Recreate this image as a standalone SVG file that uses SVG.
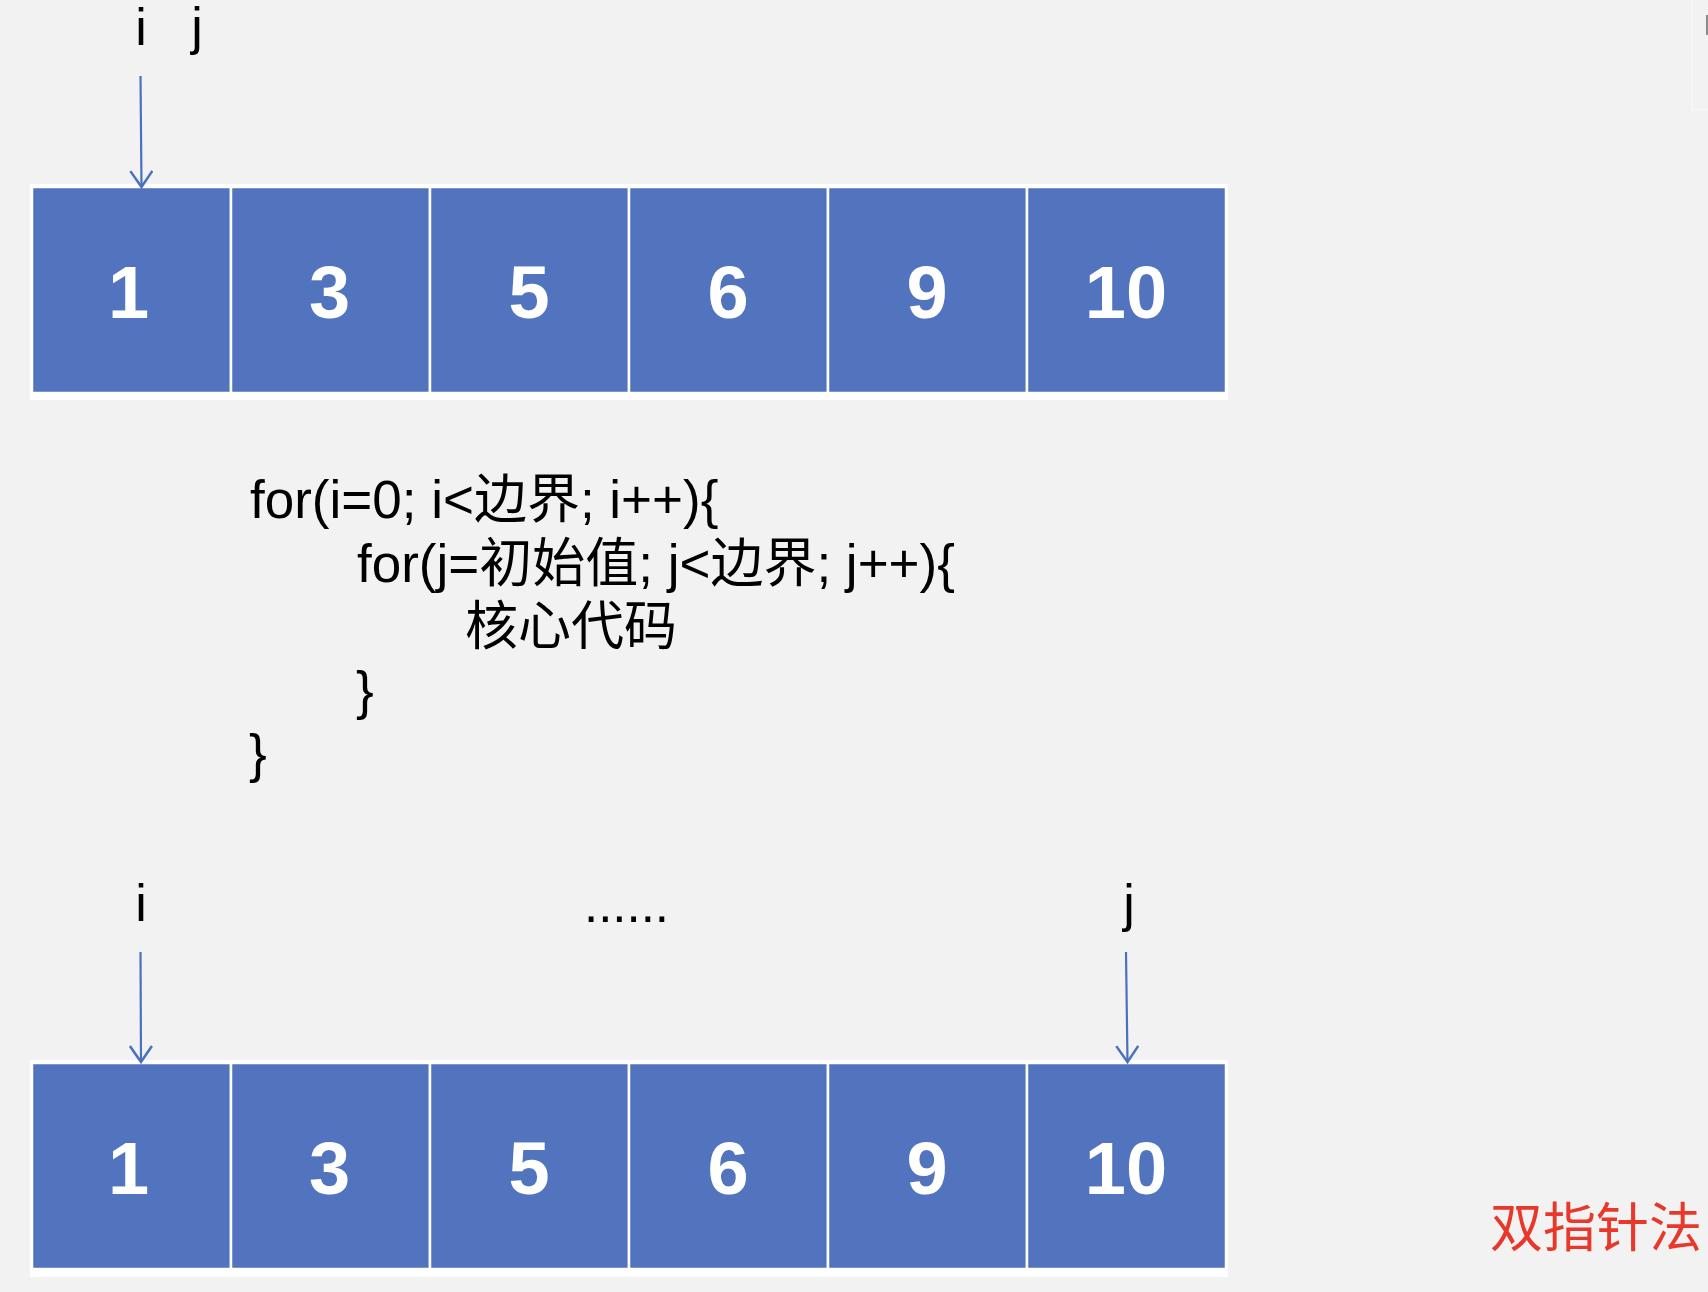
<svg xmlns="http://www.w3.org/2000/svg" width="1708" height="1292" viewBox="0 0 1708 1292">
<style>
.cell{fill:#5273BE;stroke:#FFFFFF;stroke-width:2.5}
.num{font-family:"Liberation Sans",Arial,sans-serif;font-weight:bold;font-size:74px;fill:#FFFFFF;text-anchor:middle}
.lbl{font-family:"Liberation Sans",Arial,sans-serif;font-size:52px;fill:#000000}
.code{font-family:"Liberation Sans","Noto Sans CJK SC",sans-serif;font-size:53px;fill:#000000}
.arr{stroke:#4A70C0;stroke-width:2.2;fill:none}
.title{font-family:"Noto Sans CJK SC",sans-serif;font-size:53px;fill:#E8382B}
</style>
<defs>
<marker id="vee" viewBox="0 0 20 24" refX="18" refY="12" markerWidth="20" markerHeight="24" markerUnits="userSpaceOnUse" orient="auto">
<path d="M2,1 L18,12 L2,23" fill="none" stroke="#4A70C0" stroke-width="2.5"/>
</marker>
</defs>
<rect x="0" y="0" width="1708" height="1292" fill="#F2F2F2"/>
<rect x="1692" y="-1" width="20" height="111" fill="none" stroke="#FAFAFA" stroke-width="1"/>
<rect x="1706" y="15" width="2" height="20" fill="#8A8A8A"/>

<g id="row-top">
<rect x="30" y="184" width="1198" height="216" fill="#FFFFFF"/>
<g id="top-cell-1"><rect class="cell" x="32" y="187" width="199" height="206"/><text class="num" x="128.5" y="318">1</text></g>
<g id="top-cell-3"><rect class="cell" x="231" y="187" width="199" height="206"/><text class="num" x="329.5" y="318">3</text></g>
<g id="top-cell-5"><rect class="cell" x="430" y="187" width="199" height="206"/><text class="num" x="529" y="318">5</text></g>
<g id="top-cell-6"><rect class="cell" x="629" y="187" width="199" height="206"/><text class="num" x="728" y="318">6</text></g>
<g id="top-cell-9"><rect class="cell" x="828" y="187" width="199" height="206"/><text class="num" x="927" y="318">9</text></g>
<g id="top-cell-10"><rect class="cell" x="1027" y="187" width="199" height="206"/><text class="num" x="1126" y="318">10</text></g>
</g>

<g id="row-bottom">
<rect x="30" y="1060" width="1198" height="217" fill="#FFFFFF"/>
<g id="bot-cell-1"><rect class="cell" x="32" y="1063" width="199" height="206"/><text class="num" x="128.5" y="1194">1</text></g>
<g id="bot-cell-3"><rect class="cell" x="231" y="1063" width="199" height="206"/><text class="num" x="329.5" y="1194">3</text></g>
<g id="bot-cell-5"><rect class="cell" x="430" y="1063" width="199" height="206"/><text class="num" x="529" y="1194">5</text></g>
<g id="bot-cell-6"><rect class="cell" x="629" y="1063" width="199" height="206"/><text class="num" x="728" y="1194">6</text></g>
<g id="bot-cell-9"><rect class="cell" x="828" y="1063" width="199" height="206"/><text class="num" x="927" y="1194">9</text></g>
<g id="bot-cell-10"><rect class="cell" x="1027" y="1063" width="199" height="206"/><text class="num" x="1126" y="1194">10</text></g>
</g>

<g id="labels">
<text class="lbl" x="141" y="45" text-anchor="middle">i</text>
<text class="lbl" x="197" y="44" text-anchor="middle">j</text>
<text class="lbl" x="141" y="921" text-anchor="middle">i</text>
<text class="lbl" x="1129" y="921" text-anchor="middle">j</text>
<text class="lbl" x="584" y="922" style="font-size:51px">......</text>
</g>

<g id="code">
<text class="code" x="250" y="518">for(i=0; i&lt;边界; i++){</text>
<text class="code" x="357" y="582">for(j=初始值; j&lt;边界; j++){</text>
<text class="code" x="465" y="645">核心代码</text>
<text class="code" x="356" y="709">}</text>
<text class="code" x="249" y="772">}</text>
</g>

<g id="title">
<text class="title" x="1490" y="1247">双指针法</text>
</g>

<g id="connectors">
<line class="arr" x1="140.5" y1="76" x2="141.5" y2="187" marker-end="url(#vee)"/>
<line class="arr" x1="140.5" y1="952" x2="141" y2="1062" marker-end="url(#vee)"/>
<line class="arr" x1="1126" y1="952" x2="1127.5" y2="1062" marker-end="url(#vee)"/>
</g>
</svg>
